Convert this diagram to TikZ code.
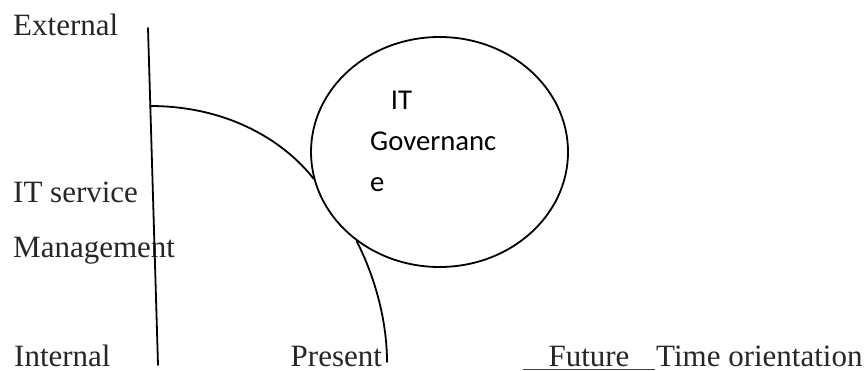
\documentclass[tikz,border=0pt]{standalone}
\usepackage{fontspec}
\setmainfont{Liberation Serif}
\newfontfamily\govfont{Carlito}
\usetikzlibrary{shapes.geometric}
\begin{document}
\begin{tikzpicture}[x=1pt,y=-1pt,
  lbl/.style={anchor=base west,inner sep=0pt,text=black!85,font=\fontsize{31}{37}\selectfont},
  govtext/.style={anchor=base west,inner sep=0pt,text=black,font=\govfont\fontsize{28.7}{34}\selectfont},
  curve/.style={line width=1.8pt,line cap=round},
  circ/.style={ellipse,draw,line width=1.8pt,minimum width=257pt,minimum height=230pt,inner sep=0pt}]
\useasboundingbox (0,0) rectangle (866,371);

% axis labels
\node[lbl] (ext) at (13,36) {External};
\node[lbl] (svc) at (13,203) {IT service};
\node[lbl] (mgmt) at (13,257) {Management};
\node[lbl] (int) at (14,366) {Internal};
\node[lbl] (pres) at (290.5,366) {Present};
\node[lbl,anchor=base] (fut) at (589,366) {Future};
\node[lbl] (timeo) at (656,366) {Time orientation};

% underline beneath "Future"
\coordinate (ulA) at (523,369.4);
\coordinate (ulB) at (655,369.4);
\draw[line width=1.2pt,black!75] (ulA) -- (ulB);

% vertical axis
\coordinate (vtop) at (148,28);
\coordinate (vbot) at (158,365);
\draw[curve] (vtop) -- (vbot);

% IT Governance ellipse
\node[circ] (gov) at (439.5,152) {};
\node[govtext] (g1) at (390.7,110) {IT};
\node[govtext] (g2) at (370,150.7) {Governanc};
\node[govtext] (g3) at (370,191.7) {e};

% boundary curves
\coordinate (a1) at (150,106);
\draw[curve] (a1) .. controls +(80,0) and +(-28,-36) .. (gov.192);
\coordinate (a2) at (387,362);
\draw[curve] (gov.227) .. controls +(18,35) and +(0,-42) .. (a2);
\end{tikzpicture}
\end{document}
